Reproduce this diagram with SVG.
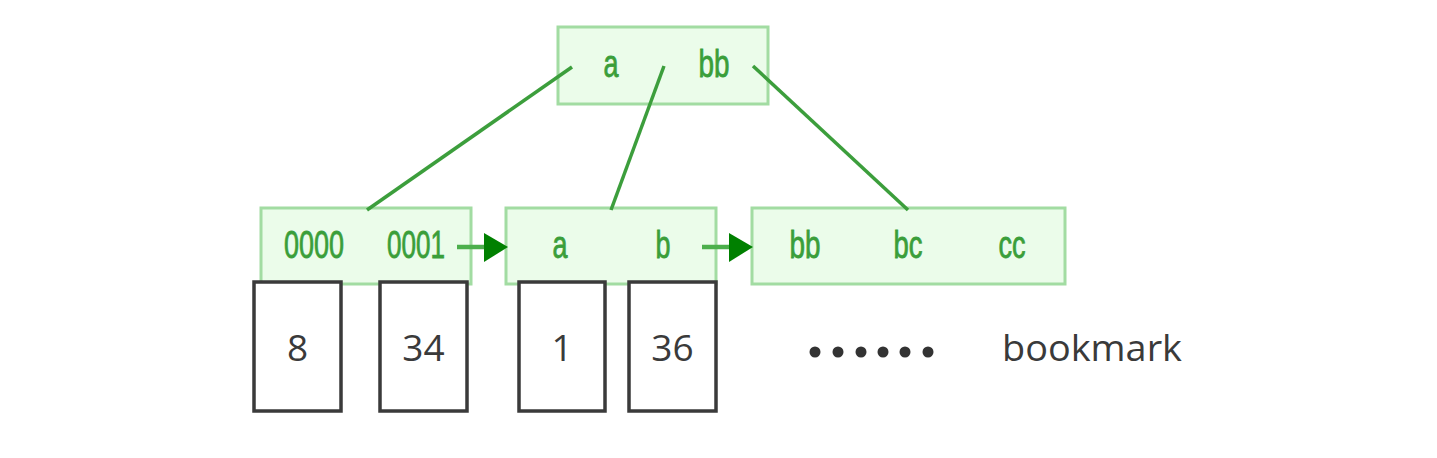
<svg xmlns="http://www.w3.org/2000/svg" width="1437" height="458" viewBox="0 0 1437 458">
<style>
.gbox{fill:#ebfcea;stroke:#a2dca2;stroke-width:3}
.gt{font-family:"Liberation Sans",Arial,sans-serif;font-size:38px;fill:#3a9e3a;text-anchor:middle;stroke:#3a9e3a;stroke-width:0.8}
.bbox{fill:#ffffff;stroke:#3a3a3a;stroke-width:3.5}
.bt{font-family:"Open Sans","Liberation Sans",sans-serif;font-size:37px;fill:#3a3a3a;text-anchor:middle}
.edge{stroke:#3c9e3c;stroke-width:3.5;fill:none}
.link{stroke:#4caf4c;stroke-width:4.5;fill:none}
.head{fill:#008000}
</style>
<rect width="1437" height="458" fill="#ffffff"/>
<g id="root">
<rect class="gbox" x="558" y="27" width="210" height="77"/>
<text class="gt" x="611" y="77" textLength="15" lengthAdjust="spacingAndGlyphs">a</text>
<text class="gt" x="714" y="77" textLength="31" lengthAdjust="spacingAndGlyphs">bb</text>
</g>
<g id="leaf1">
<rect class="gbox" x="261" y="208" width="210" height="76"/>
<text class="gt" x="314" y="258" textLength="60" lengthAdjust="spacingAndGlyphs">0000</text>
<text class="gt" x="416" y="258" textLength="58" lengthAdjust="spacingAndGlyphs">0001</text>
</g>
<g id="leaf2">
<rect class="gbox" x="506" y="208" width="210" height="76"/>
<text class="gt" x="560" y="258" textLength="15" lengthAdjust="spacingAndGlyphs">a</text>
<text class="gt" x="663" y="258" textLength="15" lengthAdjust="spacingAndGlyphs">b</text>
</g>
<g id="leaf3">
<rect class="gbox" x="752" y="208" width="313" height="76"/>
<text class="gt" x="805" y="258" textLength="31" lengthAdjust="spacingAndGlyphs">bb</text>
<text class="gt" x="908" y="258" textLength="29" lengthAdjust="spacingAndGlyphs">bc</text>
<text class="gt" x="1012" y="258" textLength="27" lengthAdjust="spacingAndGlyphs">cc</text>
</g>
<g id="connectors">
<line class="edge" x1="572" y1="67" x2="367" y2="210"/>
<line class="edge" x1="664" y1="66" x2="611" y2="210"/>
<line class="edge" x1="753" y1="66" x2="908" y2="210"/>
<line class="link" x1="457" y1="247" x2="486" y2="247"/>
<polygon class="head" points="484,233 508,247 484,262"/>
<line class="link" x1="702" y1="247" x2="731" y2="247"/>
<polygon class="head" points="729,233 753,247 729,262"/>
</g>
<g id="bm1">
<rect class="bbox" x="254" y="282" width="87" height="129"/>
<text class="bt" x="297.5" y="361">8</text>
</g>
<g id="bm2">
<rect class="bbox" x="380" y="282" width="87" height="129"/>
<text class="bt" x="423.5" y="361">34</text>
</g>
<g id="bm3">
<rect class="bbox" x="519" y="282" width="86" height="129"/>
<text class="bt" x="562" y="361">1</text>
</g>
<g id="bm4">
<rect class="bbox" x="629" y="282" width="87" height="129"/>
<text class="bt" x="672.5" y="361">36</text>
</g>
<g id="dots" fill="#333333">
<circle cx="815" cy="352" r="5.5"/>
<circle cx="838" cy="352" r="5.5"/>
<circle cx="861" cy="352" r="5.5"/>
<circle cx="883" cy="352" r="5.5"/>
<circle cx="905" cy="352" r="5.5"/>
<circle cx="928" cy="352" r="5.5"/>
</g>
<text class="bt" x="1002" y="361" style="text-anchor:start" textLength="180" lengthAdjust="spacingAndGlyphs">bookmark</text>
</svg>
